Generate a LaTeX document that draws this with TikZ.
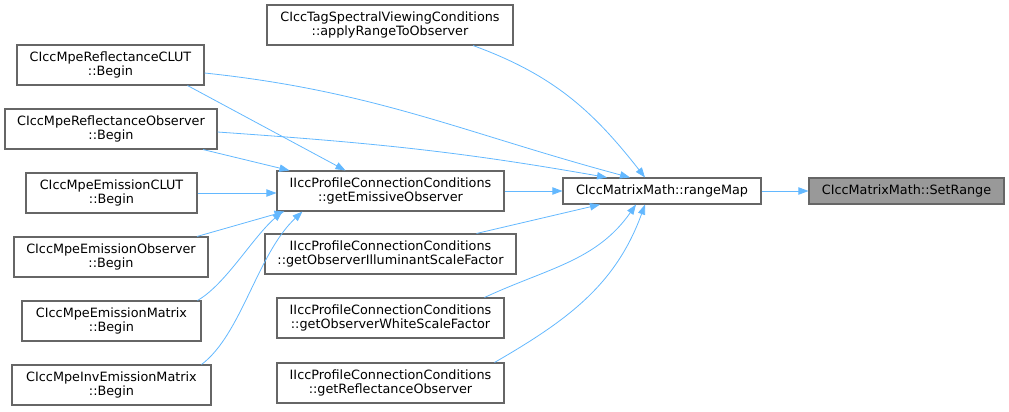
\documentclass[tikz,border=0pt]{standalone}
\usepackage{fontspec}
\setmainfont{DejaVu Sans}
\usetikzlibrary{arrows.meta, calc}
\definecolor{edgeBlue}{HTML}{63B8FF}
\definecolor{boxGray}{HTML}{666666}
\definecolor{focusGray}{HTML}{999999}
\tikzset{
  fnbox/.style={rectangle, draw=boxGray, fill=white, align=center,
    font=\fontsize{9.6}{10.2}\selectfont, inner sep=0pt, line width=0.8pt},
  focusbox/.style={fnbox, fill=focusGray},
  boxdim/.style 2 args={minimum width=#1*0.75pt, minimum height=#2*0.75pt},
  callarrow/.style={-{Triangle[length=7.5pt, width=5.5pt]}, edgeBlue,
    line width=0.6pt},
}

\begin{document}
\begin{tikzpicture}[x=0.75pt, y=0.75pt]
    \useasboundingbox (0,0) rectangle (1009,-411);
    % function of interest and its direct caller
    \node[focusbox, boxdim={195}{26}] (setrange) at (906.5,-191)
      {CIccMatrixMath::SetRange};
    \node[fnbox, boxdim={198}{26}] (rangemap) at (662,-191)
      {CIccMatrixMath::rangeMap};
    % callers of rangeMap
    \node[fnbox, boxdim={246}{40}] (applyrange) at (390,-25)
      {CIccTagSpectralViewingConditions\\::applyRangeToObserver};
    \node[fnbox, boxdim={227}{40}] (emissive) at (390.5,-191)
      {IIccProfileConnectionConditions\\::getEmissiveObserver};
    \node[fnbox, boxdim={251}{40}] (illum) at (390.5,-254)
      {IIccProfileConnectionConditions\\::getObserverIlluminantScaleFactor};
    \node[fnbox, boxdim={227}{40}] (white) at (390.5,-318)
      {IIccProfileConnectionConditions\\::getObserverWhiteScaleFactor};
    \node[fnbox, boxdim={227}{40}] (reflget) at (390.5,-383)
      {IIccProfileConnectionConditions\\::getReflectanceObserver};
    % Begin methods
    \node[fnbox, boxdim={187}{40}] (reflclut) at (110.5,-65)
      {CIccMpeReflectanceCLUT\\::Begin};
    \node[fnbox, boxdim={212}{40}] (reflobs) at (111,-129)
      {CIccMpeReflectanceObserver\\::Begin};
    \node[fnbox, boxdim={171}{40}] (emclut) at (111.5,-193)
      {CIccMpeEmissionCLUT\\::Begin};
    \node[fnbox, boxdim={194}{40}] (emobs) at (111,-257)
      {CIccMpeEmissionObserver\\::Begin};
    \node[fnbox, boxdim={179}{40}] (emmatrix) at (111.5,-321)
      {CIccMpeEmissionMatrix\\::Begin};
    \node[fnbox, boxdim={199}{40}] (invem) at (111.5,-385)
      {CIccMpeInvEmissionMatrix\\::Begin};
    % calls into rangeMap and SetRange
    \draw[callarrow] (rangemap.east) -- (setrange.west);
    \draw[callarrow] (emissive.east) -- (rangemap.west);
    \draw[callarrow] ($(applyrange.south)+(83,0)$) to[out=-20, in=128]
      ($(rangemap.north)+(-17,0)$);
    \draw[callarrow] ($(reflclut.east)+(0,-8)$) to[out=-6, in=165]
      ($(rangemap.north)+(-32,0)$);
    \draw[callarrow] ($(reflobs.east)+(0,-3)$) to[out=-4, in=170]
      ($(rangemap.north)+(-55,0)$);
    \draw[callarrow] ($(illum.north)+(86,0)$) -- ($(rangemap.south)+(-62,0)$);
    \draw[callarrow] ($(white.north)+(94,0)$) to[out=25, in=-125]
      ($(rangemap.south)+(-26,0)$);
    \draw[callarrow] ($(reflget.north)+(104,0)$) to[out=30, in=-110]
      ($(rangemap.south)+(-17,0)$);
    % calls into getEmissiveObserver
    \draw[callarrow] ($(reflclut.south)+(77,0)$) -- ($(emissive.north)+(-45,0)$);
    \draw[callarrow] ($(reflobs.south)+(92,0)$) -- ($(emissive.north west)+(13,0)$);
    \draw[callarrow] (emclut.east) -- (emclut.east -| emissive.west);
    \draw[callarrow] ($(emobs.north)+(86,0)$) -- ($(emissive.south west)+(8,0)$);
    \draw[callarrow] ($(emmatrix.north)+(86,0)$)
      .. controls +(28,16) and +(-30,-26) .. ($(emissive.south west)+(6,0)$);
    \draw[callarrow] ($(invem.north)+(90,0)$)
      .. controls +(40,30) and +(-45,-42) .. ($(emissive.south west)+(26,0)$);
\end{tikzpicture}
\end{document}
